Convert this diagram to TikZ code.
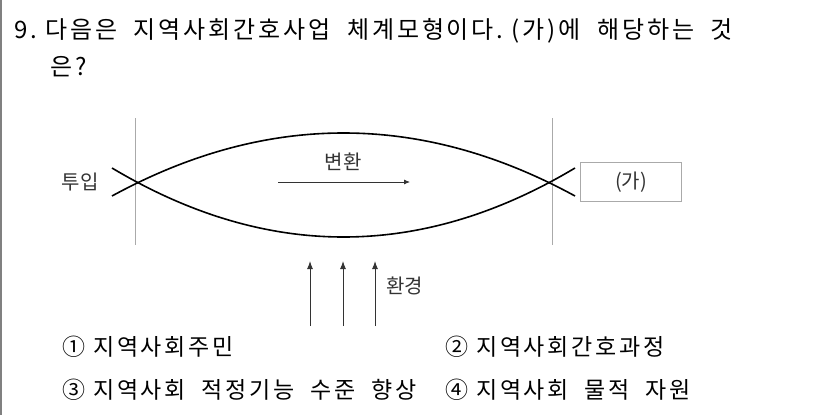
\documentclass[tikz,border=0pt]{standalone}
\usepackage{fontspec}
\newfontfamily\kr{Noto Sans CJK KR}
\newfontfamily\krwide[LetterSpace=12]{Noto Sans CJK KR}
\usetikzlibrary{positioning}
\usetikzlibrary{calc}
\usetikzlibrary{arrows.meta}

\definecolor{lightrule}{HTML}{AAAAAA}
\definecolor{labelgray}{HTML}{333333}

\tikzset{
    question/.style={anchor=west, inner sep=0pt, font=\krwide\fontsize{24}{28}\selectfont},
    choice/.style={anchor=west, inner sep=0pt, font=\krwide\fontsize{23}{27}\selectfont},
    label/.style={inner sep=0pt, text=labelgray, font=\kr\fontsize{20}{24}\selectfont},
    curve/.style={line width=1.6pt, black},
    bound/.style={line width=1pt, lightrule},
    flow/.style={-{Latex[length=8pt,width=6pt]}, line width=1pt, labelgray}
}

\begin{document}
\begin{tikzpicture}[x=1pt, y=-1pt]
    \useasboundingbox (0,0) rectangle (826,415);
    \draw[line width=1.2pt, gray] (1,0) -- (1,415);

    % question
    \node[question] (q1) at (14,31) {9.\ 다음은 \ 지역사회간호사업 \ 체계모형이다.\ (가)에 \ 해당하는 \ 것};
    \node[question] (q2) at (50,67) {은?};

    % system model
    \draw[bound] (135,118) -- (135,245);
    \draw[bound] (552,118) -- (552,245);
    \draw[curve] (112,196) .. controls (266,112) and (421,112) .. (575,196);
    \draw[curve] (112,168) .. controls (266,260) and (421,260) .. (575,168);

    \node[label] (input) at (80,182) {투입};
    \node[label] (trans) at (343,162) {변환};
    \coordinate (ts) at (278,182);
    \coordinate (te) at (410,182);
    \draw[flow, -{Latex[length=6pt,width=5pt]}, line width=0.8pt] (ts) -- (te);

    \node[draw=lightrule, line width=1pt, minimum width=101pt, minimum height=39pt,
          label, anchor=west] (output) at (580,182) {(가)};

    \node[label, anchor=west] (env) at (386,286) {환경};
    \foreach \x/\n in {310/a, 343/b, 375/c} {
        \coordinate (e\n0) at (\x,326);
        \coordinate (e\n1) at (\x,261);
        \draw[flow] (e\n0) -- (e\n1);
    }

    % choices
    \node[choice] (c1) at (62,347)  {① 지역사회주민};
    \node[choice] (c2) at (445,347) {② 지역사회간호과정};
    \node[choice] (c3) at (62,390)  {③ 지역사회 \ 적정기능 \ 수준 \ 향상};
    \node[choice] (c4) at (445,390) {④ 지역사회 \ 물적 \ 자원};
\end{tikzpicture}
\end{document}
